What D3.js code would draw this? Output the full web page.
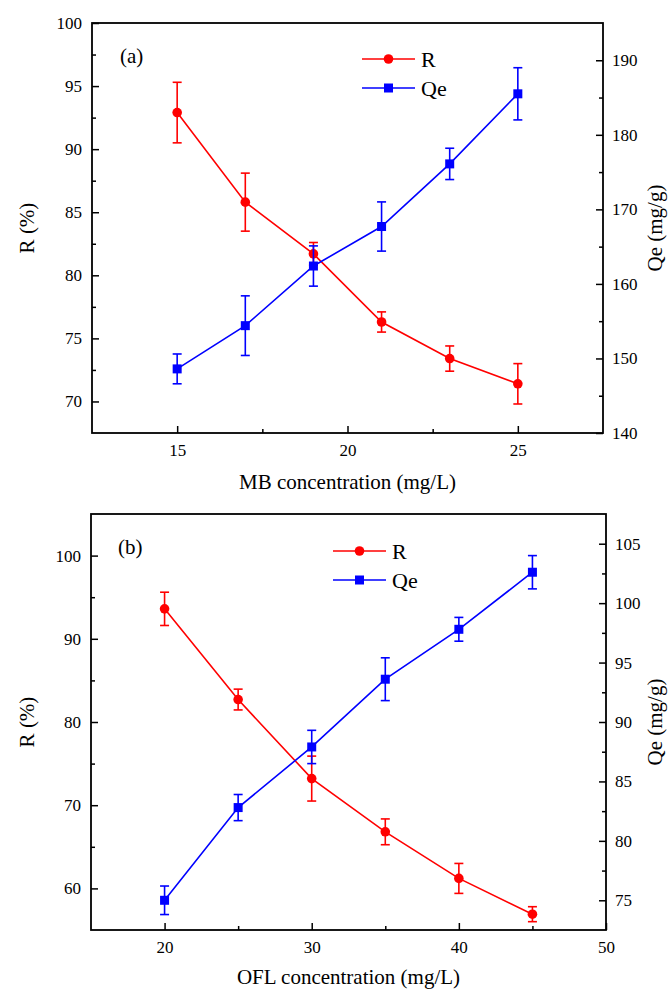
<!DOCTYPE html>
<html>
<head>
<meta charset="utf-8">
<script src="https://cdn.jsdelivr.net/npm/d3@7"></script>
<style>
html,body{margin:0;padding:0;background:#fff;}
svg{display:block;}
svg text{font-family:"Times New Roman","Liberation Serif",Tinos,"DejaVu Serif",serif !important;fill:#000;}
</style>
</head>
<body>
<svg id="chart" width="668" height="990"></svg>
<script>
// ---------- data ----------
const concA = [15, 17, 19, 21, 23, 25];
const rA = [92.9, 85.8, 81.7, 76.3, 73.4, 71.4];
const rErrA = [2.4, 2.3, 0.9, 0.8, 1.0, 1.6];
const qeA = [148.6, 154.4, 162.4, 167.7, 176.1, 185.5];
const qeErrA = [2.0, 4.0, 2.7, 3.3, 2.1, 3.5];

const concB = [20, 25, 30, 35, 40, 45];
const rB = [93.6, 82.7, 73.2, 66.8, 61.2, 56.9];
const rErrB = [2.0, 1.25, 2.7, 1.55, 1.8, 0.9];
const qeB = [75.0, 82.8, 87.9, 93.6, 97.8, 102.6];
const qeErrB = [1.2, 1.1, 1.4, 1.8, 1.0, 1.4];

const xTicksA = [15, 20, 25], xMinorA = [17.5, 22.5];
const rTicksA = [70, 75, 80, 85, 90, 95, 100], rMinorA = [72.5, 77.5, 82.5, 87.5, 92.5, 97.5];
const qTicksA = [140, 150, 160, 170, 180, 190], qMinorA = [145, 155, 165, 175, 185];

const xTicksB = [20, 30, 40, 50], xMinorB = [25, 35, 45];
const rTicksB = [60, 70, 80, 90, 100], rMinorB = [65, 75, 85, 95];
const qTicksB = [75, 80, 85, 90, 95, 100, 105], qMinorB = [77.5, 82.5, 87.5, 92.5, 97.5, 102.5];

const seriesNames = ["R", "Qe"];
const colors = {R: "#ff0000", Qe: "#0000ff"};
const FONT = '"Times New Roman","Liberation Serif",Tinos,serif';

const svg = d3.select("#chart");

function panel(cfg) {
  const {left, right, top, bottom} = cfg.box;
  const g = svg.append("g");
  const x = d3.scaleLinear().domain(cfg.xDomain).range([left, right]);
  const yL = d3.scaleLinear().domain(cfg.rDomain).range([bottom, top]);
  const yR = d3.scaleLinear().domain(cfg.qDomain).range([bottom, top]);

  const styleAxis = (sel) => {
    sel.attr("font-family", FONT);
    sel.select(".domain").remove();
    sel.selectAll(".tick line").attr("stroke", "#000").attr("stroke-width", 1.5);
    sel.selectAll("text").attr("font-size", 17).attr("font-family", FONT);
  };

  // bottom axis
  g.append("g").attr("transform", `translate(0,${bottom})`)
    .call(d3.axisBottom(x).tickValues(cfg.xTicks).tickSize(-7).tickPadding(11).tickFormat(d3.format("d")))
    .call(styleAxis);
  g.append("g").attr("transform", `translate(0,${bottom})`)
    .call(d3.axisBottom(x).tickValues(cfg.xMinor).tickSize(-4).tickFormat(""))
    .call(styleAxis);
  // left axis
  g.append("g").attr("transform", `translate(${left},0)`)
    .call(d3.axisLeft(yL).tickValues(cfg.rTicks).tickSize(-7).tickPadding(10).tickFormat(d3.format("d")))
    .call(styleAxis);
  g.append("g").attr("transform", `translate(${left},0)`)
    .call(d3.axisLeft(yL).tickValues(cfg.rMinor).tickSize(-4).tickFormat(""))
    .call(styleAxis);
  // right axis
  g.append("g").attr("transform", `translate(${right},0)`)
    .call(d3.axisRight(yR).tickValues(cfg.qTicks).tickSize(-7).tickPadding(9).tickFormat(d3.format("d")))
    .call(styleAxis);
  g.append("g").attr("transform", `translate(${right},0)`)
    .call(d3.axisRight(yR).tickValues(cfg.qMinor).tickSize(-4).tickFormat(""))
    .call(styleAxis);

  // frame
  g.append("rect").attr("x", left).attr("y", top).attr("width", right - left).attr("height", bottom - top)
    .attr("fill", "none").attr("stroke", "#000").attr("stroke-width", 1.8);

  // series
  const drawSeries = (xs, ys, errs, yScale, color, shape) => {
    const data = xs.map((d, i) => ({x: d, y: ys[i], e: errs[i]}));
    const sg = g.append("g");
    sg.append("path").datum(data)
      .attr("fill", "none").attr("stroke", color).attr("stroke-width", 1.6)
      .attr("d", d3.line().x(d => x(d.x)).y(d => yScale(d.y)));
    const eb = sg.selectAll(".eb").data(data).join("g").attr("stroke", color).attr("stroke-width", 1.6);
    eb.append("line").attr("x1", d => x(d.x)).attr("x2", d => x(d.x))
      .attr("y1", d => yScale(d.y - d.e)).attr("y2", d => yScale(d.y + d.e));
    eb.append("line").attr("x1", d => x(d.x) - 4.5).attr("x2", d => x(d.x) + 4.5)
      .attr("y1", d => yScale(d.y + d.e)).attr("y2", d => yScale(d.y + d.e));
    eb.append("line").attr("x1", d => x(d.x) - 4.5).attr("x2", d => x(d.x) + 4.5)
      .attr("y1", d => yScale(d.y - d.e)).attr("y2", d => yScale(d.y - d.e));
    if (shape === "circle") {
      sg.selectAll(".m").data(data).join("circle")
        .attr("cx", d => x(d.x)).attr("cy", d => yScale(d.y)).attr("r", 4.8).attr("fill", color);
    } else {
      sg.selectAll(".m").data(data).join("rect")
        .attr("x", d => x(d.x) - 4.5).attr("y", d => yScale(d.y) - 4.5)
        .attr("width", 9).attr("height", 9).attr("fill", color);
    }
  };
  drawSeries(cfg.conc, cfg.r, cfg.rErr, yL, colors.R, "circle");
  drawSeries(cfg.conc, cfg.qe, cfg.qeErr, yR, colors.Qe, "square");

  // legend
  const lg = g.append("g");
  seriesNames.forEach((name, i) => {
    const ly = cfg.legend.y + i * cfg.legend.dy;
    const c = colors[name];
    lg.append("line").attr("x1", cfg.legend.x).attr("x2", cfg.legend.x + 53)
      .attr("y1", ly).attr("y2", ly).attr("stroke", c).attr("stroke-width", 1.6);
    if (i === 0) {
      lg.append("circle").attr("cx", cfg.legend.x + 26.5).attr("cy", ly).attr("r", 4.8).attr("fill", c);
    } else {
      lg.append("rect").attr("x", cfg.legend.x + 22).attr("y", ly - 4.5).attr("width", 9).attr("height", 9).attr("fill", c);
    }
    lg.append("text").attr("x", cfg.legend.x + 59).attr("y", ly + 7.5)
      .attr("font-family", FONT).attr("font-size", 22).text(name);
  });

  // panel label
  g.append("text").attr("x", cfg.label.x).attr("y", cfg.label.y)
    .attr("font-family", FONT).attr("font-size", 21).text(cfg.label.text);

  // axis titles
  g.append("text").attr("x", (left + right) / 2).attr("y", cfg.xTitleY)
    .attr("text-anchor", "middle").attr("font-family", FONT).attr("font-size", 21).text(cfg.xTitle);
  g.append("text").attr("transform", `translate(34,${(top + bottom) / 2}) rotate(-90)`)
    .attr("text-anchor", "middle").attr("font-family", FONT).attr("font-size", 21).text("R (%)");
  g.append("text").attr("transform", `translate(662,${(top + bottom) / 2}) rotate(-90)`)
    .attr("text-anchor", "middle").attr("font-family", FONT).attr("font-size", 21).text("Qe (mg/g)");
}

panel({
  box: {left: 92, right: 603, top: 23, bottom: 433},
  xDomain: [12.5, 27.5], rDomain: [67.5, 100], qDomain: [140, 195],
  xTicks: xTicksA, xMinor: xMinorA, rTicks: rTicksA, rMinor: rMinorA, qTicks: qTicksA, qMinor: qMinorA,
  conc: concA, r: rA, rErr: rErrA, qe: qeA, qeErr: qeErrA,
  legend: {x: 362, y: 59, dy: 29},
  label: {x: 120, y: 63, text: "(a)"},
  xTitle: "MB concentration (mg/L)", xTitleY: 489
});

panel({
  box: {left: 91, right: 606, top: 514, bottom: 930},
  xDomain: [15, 50], rDomain: [55, 105], qDomain: [72.5, 107.5],
  xTicks: xTicksB, xMinor: xMinorB, rTicks: rTicksB, rMinor: rMinorB, qTicks: qTicksB, qMinor: qMinorB,
  conc: concB, r: rB, rErr: rErrB, qe: qeB, qeErr: qeErrB,
  legend: {x: 333, y: 551, dy: 29},
  label: {x: 118, y: 554, text: "(b)"},
  xTitle: "OFL concentration (mg/L)", xTitleY: 984
});
</script>
</body>
</html>
